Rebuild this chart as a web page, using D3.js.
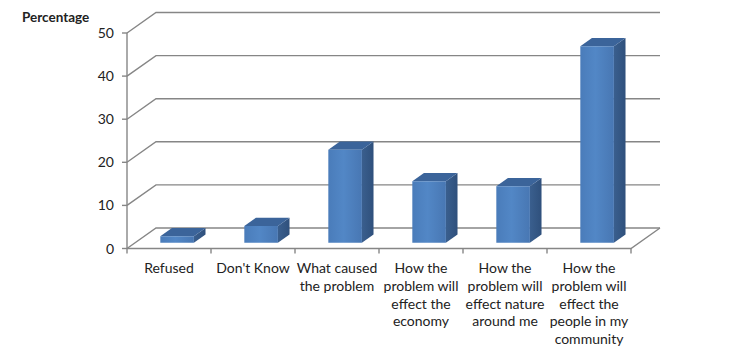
<!DOCTYPE html>
<html>
<head>
<meta charset="utf-8">
<script src="https://cdn.jsdelivr.net/npm/d3@7"></script>
<style>
	body { margin: 0; background: #fff; }
	text { font-family: Lato, "Open Sans", sans-serif; fill: #222; }
</style>
</head>
<body>
<div id="chart"></div>
<script>
// data
var categories = ["Refused", "Don't Know", "What caused the problem",
	"How the problem will effect the economy",
	"How the problem will effect nature around me",
	"How the problem will effect the people in my community"];
var labelLines = [
	["Refused"],
	["Don't Know"],
	["What caused", "the problem"],
	["How the", "problem will", "effect the", "economy"],
	["How the", "problem will", "effect nature", "around me"],
	["How the", "problem will", "effect the", "people in my", "community"]
];
var values = [1.5, 3.9, 21.6, 14.3, 13.1, 45.6];
var yTicks = [0, 10, 20, 30, 40, 50];

function init(){
	barChart3d();
}

function barChart3d(){
	var width = 740;
	var height = 354;

	// oblique depth of the floor / walls
	var depthX = 29;
	var depthY = -20.5;
	var barFront = 0.28;
	var barBack = 0.68;

	var svg = d3.select("#chart").append("svg")
				.attr("width", width)
				.attr("height", height);

	var x = d3.scaleBand().domain(categories)
				.range([127, 631])
				.paddingInner(0.6)
				.paddingOuter(0.3);

	var y = d3.scaleLinear().domain([0, 50]).range([248.5, 33]);

	// project a (x, value, depth) point to screen
	function pt(px, v, d){
		return [px + d * depthX, y(v) + d * depthY];
	}

	var gridColor = "#868686";

	// gradients for bar faces
	var defs = svg.append("defs");
	var gFront = defs.append("linearGradient").attr("id", "front")
					.attr("x1", "0").attr("x2", "1").attr("y1", "0").attr("y2", "0");
	gFront.append("stop").attr("offset", "0").attr("stop-color", "#4a7cba");
	gFront.append("stop").attr("offset", "0.45").attr("stop-color", "#5287c6");
	gFront.append("stop").attr("offset", "1").attr("stop-color", "#4877b3");

	var gSide = defs.append("linearGradient").attr("id", "side")
					.attr("x1", "0").attr("x2", "1").attr("y1", "0").attr("y2", "0");
	gSide.append("stop").attr("offset", "0").attr("stop-color", "#3a5f8e");
	gSide.append("stop").attr("offset", "1").attr("stop-color", "#2f507c");

	// gridlines: side-wall diagonal then back wall horizontal
	var grid = svg.append("g");
	yTicks.forEach(function(t){
		var a = pt(127, t, 0), b = pt(127, t, 1), c = [660, b[1]];
		grid.append("path")
			.attr("d", "M" + a + "L" + b + "L" + c)
			.attr("fill", "none")
			.attr("stroke", gridColor)
			.attr("stroke-width", 1.4);
	});

	// floor: front edge and right edge
	var f0 = pt(127, 0, 0), f1 = pt(631, 0, 0), f2 = pt(631, 0, 1);
	grid.append("path")
		.attr("d", "M" + f0 + "L" + f1 + "L" + f2)
		.attr("fill", "none")
		.attr("stroke", gridColor)
		.attr("stroke-width", 1.4);

	// value axis
	grid.append("line")
		.attr("x1", 127).attr("x2", 127)
		.attr("y1", y(50)).attr("y2", y(0))
		.attr("stroke", gridColor)
		.attr("stroke-width", 1.4);

	grid.selectAll("line.ytick").data(yTicks).enter()
		.append("line")
		.attr("class", "ytick")
		.attr("x1", 122).attr("x2", 127)
		.attr("y1", d => y(d)).attr("y2", d => y(d))
		.attr("stroke", gridColor)
		.attr("stroke-width", 1.4);

	svg.selectAll("text.ylab").data(yTicks).enter()
		.append("text")
		.attr("class", "ylab")
		.attr("x", 114)
		.attr("y", d => y(d) + 5)
		.attr("text-anchor", "end")
		.style("font-size", "14px")
		.text(d => d);

	// category ticks
	var tickXs = categories.map(c => x(c) - x.step() * x.paddingOuter() + x.step());
	tickXs.unshift(127);
	grid.selectAll("line.xtick").data(tickXs).enter()
		.append("line")
		.attr("class", "xtick")
		.attr("x1", d => d).attr("x2", d => d)
		.attr("y1", y(0)).attr("y2", y(0) + 5)
		.attr("stroke", gridColor)
		.attr("stroke-width", 1.4);

	// bars
	var bars = svg.selectAll("g.bar").data(values).enter()
				.append("g")
				.attr("class", "bar");

	function poly(points){
		return "M" + points.join("L") + "Z";
	}

	bars.append("path")
		.attr("d", function(d, i){
			var x0 = x(categories[i]), x1 = x0 + x.bandwidth();
			return poly([pt(x1, 0, barFront), pt(x1, 0, barBack), pt(x1, d, barBack), pt(x1, d, barFront)]);
		})
		.attr("fill", "url(#side)");

	bars.append("path")
		.attr("d", function(d, i){
			var x0 = x(categories[i]), x1 = x0 + x.bandwidth();
			return poly([pt(x0, d, barFront), pt(x1, d, barFront), pt(x1, d, barBack), pt(x0, d, barBack)]);
		})
		.attr("fill", "#3b649a");

	bars.append("path")
		.attr("d", function(d, i){
			var x0 = x(categories[i]), x1 = x0 + x.bandwidth();
			return poly([pt(x0, 0, barFront), pt(x1, 0, barFront), pt(x1, d, barFront), pt(x0, d, barFront)]);
		})
		.attr("fill", "url(#front)");

	// category labels
	var labels = svg.selectAll("text.xlab").data(labelLines).enter()
					.append("text")
					.attr("class", "xlab")
					.attr("text-anchor", "middle")
					.style("font-size", "14px");

	labels.selectAll("tspan").data((d, i) => d.map(s => ({s: s, i: i}))).enter()
		.append("tspan")
		.attr("x", d => x(categories[d.i]) + x.bandwidth() / 2)
		.attr("y", (d, j) => 273 + j * 17.8)
		.text(d => d.s);

	svg.append("text")
		.attr("x", 22)
		.attr("y", 22)
		.style("font-size", "13.5px")
		.style("font-weight", "bold")
		.text("Percentage");
}

window.onload = init;
</script>
</body>
</html>
